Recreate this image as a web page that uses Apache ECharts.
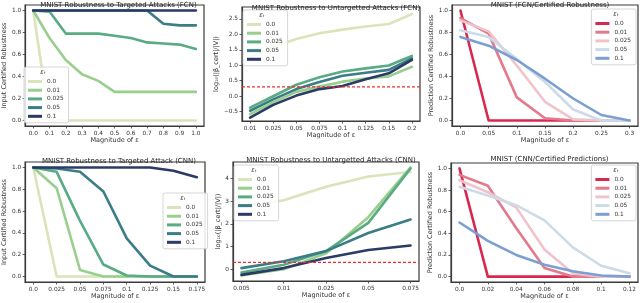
<!DOCTYPE html>
<html><head><meta charset="utf-8">
<script src="https://cdn.jsdelivr.net/npm/echarts@6/dist/echarts.min.js"></script>
<style>html,body{margin:0;padding:0;background:#fff}#c{width:640px;height:303px}</style>
</head><body><div id="c"></div>
<script>
// ---------- data ----------
const epsLabels = ['0.0', '0.01', '0.025', '0.05', '0.1'];
const greenColors = ['#d9e4ba', '#98cf8c', '#59ab84', '#3b7d87', '#2b3a66'];
const redColors = ['#d9284f', '#e27a8c', '#f0c3cb', '#cddae8', '#7b9fd2'];
const threshold = Math.log10(2);

const titles = [
  'MNIST Robustness to Targeted Attacks (FCN)',
  'MNIST Robustness to Untargetted Attacks (FCN)',
  'MNIST (FCN/Certified Robustness)',
  'MNIST Robustness to Targeted Attack (CNN)',
  'MNIST Robustness to Untargetted Attacks (CNN)',
  'MNIST (CNN/Certified Predictions)'
];
const yNames = [
  'Input Certified Robustness',
  'log₁₀(|β_cert|/|V|)',
  'Prediction Certified Robustness',
  'Input Certified Robustness',
  'log₁₀(|β_cert|/|V|)',
  'Prediction Certified Robustness'
];
const xName = 'Magnitude of ε';

// Panel 1: FCN targeted
const p1X = [0, 0.1, 0.2, 0.3, 0.4, 0.5, 0.6, 0.7, 0.8, 0.9, 1.0];
const p1Y = [
  [1, 0, 0, 0, 0, 0, 0, 0, 0, 0, 0],
  [1, 0.75, 0.55, 0.42, 0.36, 0.26, 0.26, 0.26, 0.26, 0.26, 0.26],
  [1, 0.99, 0.79, 0.79, 0.79, 0.77, 0.75, 0.71, 0.70, 0.69, 0.65],
  [1, 1, 1, 1, 1, 1, 1, 1, 0.88, 0.865, 0.865],
  [1, 1, 1, 1, 1, 1, 1, 1, 1, 1, 1]
];
const p1XTicks = [0, 0.1, 0.2, 0.3, 0.4, 0.5, 0.6, 0.7, 0.8, 0.9, 1.0];
const p1XTickLabels = ['0.0', '0.1', '0.2', '0.3', '0.4', '0.5', '0.6', '0.7', '0.8', '0.9', '1.0'];

// Panel 2: FCN untargeted (categorical x)
const p2XCats = ['0.01', '0.025', '0.05', '0.075', '0.1', '0.125', '0.15', '0.2'];
const p2Y = [
  [1.25, 1.6, 1.85, 2.03, 2.15, 2.25, 2.33, 2.65],
  [-0.58, -0.2, 0.14, 0.31, 0.47, 0.57, 0.64, 0.95],
  [-0.37, 0.0, 0.37, 0.61, 0.8, 0.9, 0.99, 1.3],
  [-0.47, -0.1, 0.23, 0.46, 0.66, 0.76, 0.85, 1.22],
  [-0.69, -0.28, 0.02, 0.23, 0.33, 0.55, 0.74, 1.17]
];
const p2YTicks = [-0.5, 0, 0.5, 1.0, 1.5, 2.0, 2.5];
const p2YTickLabels = ['−0.5', '0.0', '0.5', '1.0', '1.5', '2.0', '2.5'];

// Panel 3: FCN certified predictions
const p3X = [0, 0.05, 0.1, 0.15, 0.2, 0.25, 0.3];
const p3Y = [
  [1, 0, 0, 0, 0, 0, 0],
  [0.93, 0.79, 0.21, 0.02, 0, 0, 0],
  [0.91, 0.81, 0.5, 0.17, 0.01, 0, 0],
  [0.82, 0.76, 0.56, 0.35, 0.1, 0, 0],
  [0.76, 0.68, 0.55, 0.38, 0.2, 0.05, 0]
];
const p3XTickLabels = ['0.0', '0.05', '0.1', '0.15', '0.2', '0.25', '0.3'];

// Panel 4: CNN targeted
const p4X = [0, 0.025, 0.05, 0.075, 0.1, 0.125, 0.15, 0.175];
const p4Y = [
  [1, 0, 0, 0, 0, 0, 0, 0],
  [1, 0.81, 0.06, 0, 0, 0, 0, 0],
  [1, 0.96, 0.51, 0.11, 0.01, 0, 0, 0],
  [1, 0.99, 0.96, 0.78, 0.35, 0.1, 0, 0],
  [1, 1, 1, 1, 1, 1, 0.97, 0.91]
];
const p4XTickLabels = ['0.0', '0.025', '0.05', '0.075', '0.1', '0.125', '0.15', '0.175'];

// Panel 5: CNN untargeted (categorical x)
const p5XCats = ['0.005', '0.01', '0.025', '0.05', '0.075'];
const p5Y = [
  [2.75, 3.05, 3.65, 4.1, 4.3],
  [-0.28, 0.0, 0.7, 2.3, 4.5],
  [-0.15, 0.2, 0.8, 2.05, 4.45],
  [0.05, 0.35, 0.8, 1.6, 2.2],
  [-0.25, 0.05, 0.5, 0.85, 1.05]
];
const p5YTicks = [0, 1, 2, 3, 4];
const p5YTickLabels = ['0', '1', '2', '3', '4'];

// Panel 6: CNN certified predictions
const p6X = [0, 0.02, 0.04, 0.06, 0.08, 0.1, 0.12];
const p6Y = [
  [1, 0, 0, 0, 0, 0, 0],
  [0.94, 0.84, 0.45, 0.08, 0, 0, 0],
  [0.89, 0.78, 0.64, 0.25, 0.03, 0, 0],
  [0.83, 0.75, 0.66, 0.52, 0.27, 0.1, 0.03],
  [0.5, 0.33, 0.2, 0.11, 0.05, 0.01, 0]
];
const p6XTickLabels = ['0.0', '0.02', '0.04', '0.06', '0.08', '0.1', '0.12'];

const probYTicks = [0, 0.2, 0.4, 0.6, 0.8, 1.0];
const probYTickLabels = ['0.0', '0.2', '0.4', '0.6', '0.8', '1.0'];

// ---------- layout ----------
const FONT = 'DejaVu Sans';
const panels = [
  { grid: [23, 5, 181, 121], xr: [-0.05, 1.05], yr: [-0.05, 1.05], xt: p1XTicks, xl: p1XTickLabels, yt: probYTicks, yl: probYTickLabels,
    xs: p1X, ys: p1Y, colors: greenColors, legend: { left: 24, top: 67 }, lx: 43, ly: 67, titleTop: -3, yGap: 15, xGap: 9, mark: false },
  { grid: [242, 7, 178, 114], xr: [-0.35, 7.35], yr: [-0.8, 2.88], xt: p2XCats.map((_, i) => i), xl: p2XCats, yt: p2YTicks, yl: p2YTickLabels,
    xs: p2XCats.map((_, i) => i), ys: p2Y, colors: greenColors, legend: { left: 243, top: 10 }, lx: 262, ly: 10, titleTop: 0, yGap: 19, xGap: 10, mark: true },
  { grid: [452, 5, 186, 121], xr: [-0.015, 0.315], yr: [-0.05, 1.05], xt: p3X, xl: p3XTickLabels, yt: probYTicks, yl: probYTickLabels,
    xs: p3X, ys: p3Y, colors: redColors, legend: { right: 4, top: 9 }, lx: 616, ly: 9, titleTop: -3, yGap: 13, xGap: 8, mark: false },
  { grid: [23, 162, 182, 120], xr: [-0.00875, 0.18375], yr: [-0.05, 1.05], xt: p4X, xl: p4XTickLabels, yt: probYTicks, yl: probYTickLabels,
    xs: p4X, ys: p4Y, colors: greenColors, legend: { left: 163, top: 193 }, lx: 183, ly: 193, titleTop: 152.5, yGap: 15, xGap: 10, mark: false },
  { grid: [233, 162, 186, 119], xr: [-0.2, 4.2], yr: [-0.52, 4.74], xt: p5XCats.map((_, i) => i), xl: p5XCats, yt: p5YTicks, yl: p5YTickLabels,
    xs: p5XCats.map((_, i) => i), ys: p5Y, colors: greenColors, legend: { left: 234, top: 165 }, lx: 254, ly: 165, titleTop: 152, yGap: 11, xGap: 10, mark: true },
  { grid: [451, 163, 187, 119], xr: [-0.006, 0.126], yr: [-0.05, 1.05], xt: p6X, xl: p6XTickLabels, yt: probYTicks, yl: probYTickLabels,
    xs: p6X, ys: p6Y, colors: redColors, legend: { right: 4, top: 165 }, lx: 616, ly: 165, titleTop: 151, yGap: 15, xGap: 10, mark: false }
];

function fmt(ticks, labels) {
  return v => { const k = ticks.findIndex(t => Math.abs(t - v) < 1e-9); return k >= 0 ? labels[k] : ''; };
}

const option = { animation: false, backgroundColor: '#fff', grid: [], xAxis: [], yAxis: [], series: [], legend: [], title: [] };
const axisCol = '#3a3a3a';
panels.forEach((p, i) => {
  option.grid.push({ left: p.grid[0], top: p.grid[1], width: p.grid[2], height: p.grid[3], show: true,
    borderColor: axisCol, borderWidth: 1.2, backgroundColor: '#fff', containLabel: false });
  option.xAxis.push({ type: 'value', gridIndex: i, min: p.xr[0], max: p.xr[1],
    name: xName, nameLocation: 'middle', nameGap: p.xGap, nameTextStyle: { fontSize: 6.5, color: '#333', fontFamily: FONT },
    axisLine: { show: true, onZero: false, lineStyle: { color: axisCol, width: 1.2 } },
    axisTick: { show: true, length: 2.5, customValues: p.xt, lineStyle: { color: axisCol, width: 0.8 } },
    axisLabel: { customValues: p.xt, formatter: fmt(p.xt, p.xl), fontSize: 5.8, color: '#333', margin: 4, fontFamily: FONT },
    splitLine: { show: false } });
  option.yAxis.push({ type: 'value', gridIndex: i, min: p.yr[0], max: p.yr[1],
    name: yNames[i], nameLocation: 'middle', nameGap: p.yGap, nameTextStyle: { fontSize: 6.5, color: '#333', fontFamily: FONT },
    axisLine: { show: true, onZero: false, lineStyle: { color: axisCol, width: 1.2 } },
    axisTick: { show: true, length: 2.5, customValues: p.yt, lineStyle: { color: axisCol, width: 0.8 } },
    axisLabel: { customValues: p.yt, formatter: fmt(p.yt, p.yl), fontSize: 5.8, color: '#333', margin: 4, fontFamily: FONT },
    splitLine: { show: false } });
  const names = [];
  p.ys.forEach((vals, s) => {
    const name = 'p' + i + '|' + epsLabels[s];
    names.push(name);
    option.series.push({ type: 'line', name, xAxisIndex: i, yAxisIndex: i, showSymbol: false, symbol: 'none',
      data: vals.map((v, k) => [p.xs[k], v]), color: p.colors[s],
      lineStyle: { width: 2.6, color: p.colors[s], cap: 'round', join: 'round' } });
  });
  if (p.mark) {
    // threshold reference line log10(2), drawn through the axis scale
    option.series.push({ type: 'line', name: 'thr' + i, xAxisIndex: i, yAxisIndex: i, showSymbol: false, symbol: 'none',
      data: [[p.xr[0], threshold], [p.xr[1], threshold]], color: '#ee2c2c', z: 5, silent: true,
      lineStyle: { width: 1.2, color: '#ee2c2c', type: [3, 2] } });
  }
  option.legend.push(Object.assign({ data: names, orient: 'vertical',
    formatter: n => n.split('|')[1], icon: 'rect', itemWidth: 14, itemHeight: 3, itemGap: 1.7,
    padding: [11, 5, 3, 4], borderColor: '#cccccc', borderWidth: 0.8, borderRadius: 2,
    backgroundColor: 'rgba(255,255,255,0.85)', textStyle: { fontSize: 5.8, color: '#333', lineHeight: 7, fontFamily: FONT },
    selectedMode: false }, p.legend));
  option.title.push({ text: titles[i], left: p.grid[0] + p.grid[2] / 2, top: p.titleTop, textAlign: 'center',
    textStyle: { fontSize: 7, fontWeight: 'normal', color: '#222', fontFamily: FONT } });
  option.title.push({ text: 'εₜ', left: p.lx, top: p.ly + 2, textAlign: 'center', z: 20, padding: 0,
    textStyle: { fontSize: 6.5, fontStyle: 'italic', fontWeight: 'normal', color: '#333', fontFamily: FONT } });
});

const chart = echarts.init(document.getElementById('c'), null, { renderer: 'canvas' });
chart.setOption(option);
</script>
</body></html>
